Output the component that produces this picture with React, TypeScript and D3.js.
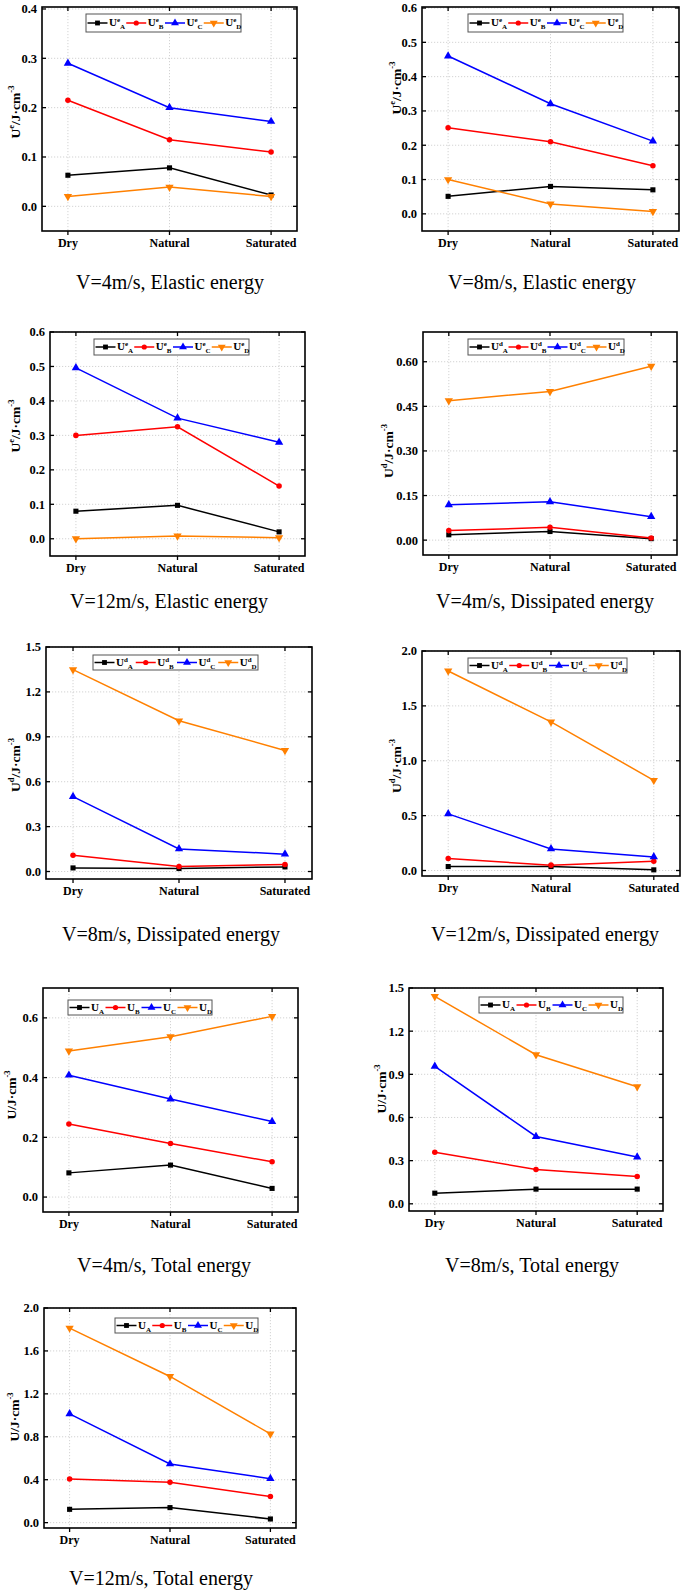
import React from "react";
import * as d3 from "d3";

const categories = ["Dry", "Natural", "Saturated"];
const seriesKeys = ["A", "B", "C", "D"];

// values per panel: rows = series A, B, C, D; columns = Dry, Natural, Saturated
const elastic4 = [
  [0.063, 0.078, 0.023],
  [0.215, 0.135, 0.11],
  [0.29, 0.2, 0.172],
  [0.02, 0.039, 0.02],
];
const elastic8 = [
  [0.051, 0.08, 0.07],
  [0.251, 0.21, 0.14],
  [0.46, 0.321, 0.212],
  [0.1, 0.029, 0.007],
];
const elastic12 = [
  [0.08, 0.097, 0.02],
  [0.3, 0.325, 0.153],
  [0.496, 0.35, 0.28],
  [0.0, 0.008, 0.003],
];
const dissipated4 = [
  [0.018, 0.029, 0.005],
  [0.032, 0.043, 0.007],
  [0.119, 0.129, 0.079],
  [0.469, 0.5, 0.585],
];
const dissipated8 = [
  [0.024, 0.02, 0.031],
  [0.109, 0.033, 0.047],
  [0.5, 0.151, 0.116],
  [1.349, 1.007, 0.809],
];
const dissipated12 = [
  [0.036, 0.036, 0.006],
  [0.109, 0.049, 0.085],
  [0.516, 0.197, 0.124],
  [1.818, 1.354, 0.822],
];
const total4 = [
  [0.081, 0.107, 0.029],
  [0.245, 0.179, 0.118],
  [0.408, 0.328, 0.253],
  [0.489, 0.537, 0.605],
];
const total8 = [
  [0.074, 0.102, 0.102],
  [0.359, 0.239, 0.19],
  [0.955, 0.468, 0.325],
  [1.442, 1.036, 0.814],
];
const total12 = [
  [0.124, 0.14, 0.034],
  [0.407, 0.376, 0.243],
  [1.014, 0.547, 0.41],
  [1.813, 1.362, 0.827],
];

const ticksE4 = [0, 0.1, 0.2, 0.3, 0.4];
const ticksE8 = [0, 0.1, 0.2, 0.3, 0.4, 0.5, 0.6];
const ticksE12 = [0, 0.1, 0.2, 0.3, 0.4, 0.5, 0.6];
const ticksD4 = [0, 0.15, 0.3, 0.45, 0.6];
const ticksD8 = [0, 0.3, 0.6, 0.9, 1.2, 1.5];
const ticksD12 = [0, 0.5, 1.0, 1.5, 2.0];
const ticksT4 = [0, 0.2, 0.4, 0.6];
const ticksT8 = [0, 0.3, 0.6, 0.9, 1.2, 1.5];
const ticksT12 = [0, 0.4, 0.8, 1.2, 1.6, 2.0];

const captions = [
  "V=4m/s, Elastic energy",
  "V=8m/s, Elastic energy",
  "V=12m/s, Elastic energy",
  "V=4m/s, Dissipated energy",
  "V=8m/s, Dissipated energy",
  "V=12m/s, Dissipated energy",
  "V=4m/s, Total energy",
  "V=8m/s, Total energy",
  "V=12m/s, Total energy",
];

const colors = ["#000000", "#ff0000", "#0000ff", "#ff8000"];
const FONT = '"Liberation Serif", "Times New Roman", "DejaVu Serif", serif';

type Cfg = {
  data: number[][];
  ticks: number[];
  fmt: string;
  top: number;
  sup: string;
  box: [number, number, number, number];
  legend: [number, number, number, number];
  ylab: [number, number];
  cap: [number, number];
  caption: string;
};

const panels: Cfg[] = [
  { data: elastic4, ticks: ticksE4, fmt: ".1f", top: 0.404, sup: "e", box: [42, 297, 7, 231], legend: [86, 14, 155, 18], ylab: [15, 112], cap: [170, 289], caption: captions[0] },
  { data: elastic8, ticks: ticksE8, fmt: ".1f", top: 0.603, sup: "e", box: [422, 679, 7, 231], legend: [468, 14, 155, 18], ylab: [396, 88], cap: [542, 289], caption: captions[1] },
  { data: elastic12, ticks: ticksE12, fmt: ".1f", top: 0.6, sup: "e", box: [50, 305, 332, 556], legend: [94, 339, 155, 16], ylab: [15, 426], cap: [169, 608], caption: captions[2] },
  { data: dissipated4, ticks: ticksD4, fmt: ".2f", top: 0.7, sup: "d", box: [423, 677, 332, 555], legend: [468, 339, 156, 16], ylab: [388, 451], cap: [545, 608], caption: captions[3] },
  { data: dissipated8, ticks: ticksD8, fmt: ".1f", top: 1.5, sup: "d", box: [46, 312, 647, 879], legend: [93, 655, 165, 15], ylab: [15, 765], cap: [171, 941], caption: captions[4] },
  { data: dissipated12, ticks: ticksD12, fmt: ".1f", top: 2.0, sup: "d", box: [422, 680, 651, 876], legend: [468, 658, 159, 15], ylab: [396, 766], cap: [545, 941], caption: captions[5] },
  { data: total4, ticks: ticksT4, fmt: ".1f", top: 0.7, sup: "", box: [43, 298, 988, 1212], legend: [68, 1000, 144, 15], ylab: [11, 1095], cap: [164, 1272], caption: captions[6] },
  { data: total8, ticks: ticksT8, fmt: ".1f", top: 1.5, sup: "", box: [409, 663, 988, 1211], legend: [479, 997, 144, 16], ylab: [381, 1089], cap: [532, 1272], caption: captions[7] },
  { data: total12, ticks: ticksT12, fmt: ".1f", top: 2.0, sup: "", box: [44, 296, 1308, 1528], legend: [115, 1318, 143, 15], ylab: [14, 1417], cap: [161, 1585], caption: captions[8] },
];

const symbolTypes = [d3.symbolSquare, d3.symbolCircle, d3.symbolTriangle, d3.symbolTriangle];
const symbolSizes = [26, 24, 30, 30];

function Marker({ i, x, y, scale = 1 }: { i: number; x: number; y: number; scale?: number }) {
  const path = d3.symbol().type(symbolTypes[i]).size(symbolSizes[i] * scale)() || "";
  const rot = i === 3 ? " rotate(180)" : "";
  return <path d={path} transform={`translate(${x},${y})${rot}`} fill={colors[i]} />;
}

function Panel({ cfg }: { cfg: Cfg }) {
  const [x0, x1, y0, y1] = cfg.box;
  const x = d3.scalePoint<string>().domain(categories).range([x0, x1]).padding(0.255);
  const y = d3.scaleLinear().domain([-0.05, cfg.top]).range([y1, y0]);
  const fmt = d3.format(cfg.fmt);
  const line = d3
    .line<number>()
    .x((_, i) => x(categories[i]) as number)
    .y((d) => y(d));
  const [lx, ly, lw, lh] = cfg.legend;
  const itemW = lw / 4;
  return (
    <g style={{ fontFamily: FONT }}>
      {cfg.ticks.map((t) => (
        <line key={"gy" + t} x1={x0} x2={x1} y1={y(t)} y2={y(t)} stroke="#c8c8c8" strokeWidth={0.8} strokeDasharray="1.2,1.8" />
      ))}
      {categories.map((c) => (
        <line key={"gx" + c} x1={x(c)} x2={x(c)} y1={y0} y2={y1} stroke="#c8c8c8" strokeWidth={0.8} strokeDasharray="1.2,1.8" />
      ))}
      {cfg.data.map((vals, si) => (
        <g key={"s" + si}>
          <path d={line(vals) || ""} fill="none" stroke={colors[si]} strokeWidth={1.5} />
          {vals.map((v, ci) => (
            <Marker key={ci} i={si} x={x(categories[ci]) as number} y={y(v)} />
          ))}
        </g>
      ))}
      <rect x={x0} y={y0} width={x1 - x0} height={y1 - y0} fill="none" stroke="#000" strokeWidth={1.6} />
      {cfg.ticks.map((t) => (
        <g key={"ty" + t}>
          <line x1={x0} x2={x0 + 4} y1={y(t)} y2={y(t)} stroke="#000" strokeWidth={1.3} />
          <line x1={x1} x2={x1 - 4} y1={y(t)} y2={y(t)} stroke="#000" strokeWidth={1.3} />
          <text x={x0 - 5} y={y(t)} dy="0.35em" textAnchor="end" fontSize={12.5} fontWeight="bold">
            {fmt(t)}
          </text>
        </g>
      ))}
      {categories.map((c) => (
        <g key={"tx" + c}>
          <line x1={x(c)} x2={x(c)} y1={y1} y2={y1 + 4} stroke="#000" strokeWidth={1.3} />
          <line x1={x(c)} x2={x(c)} y1={y0} y2={y0 + 4} stroke="#000" strokeWidth={1.3} />
          <text x={x(c)} y={y1 + 16} textAnchor="middle" fontSize={12} fontWeight="bold">
            {c}
          </text>
        </g>
      ))}
      <text
        transform={`translate(${cfg.ylab[0]},${cfg.ylab[1]}) rotate(-90)`}
        textAnchor="middle"
        dy="0.35em"
        fontSize={13.5}
        fontWeight="bold"
      >
        <tspan>U</tspan>
        {cfg.sup ? (
          <tspan fontSize={8.5} dy={-5.5}>
            {cfg.sup}
          </tspan>
        ) : null}
        <tspan dy={cfg.sup ? 5.5 : 0}>/J·cm</tspan>
        <tspan fontSize={8.5} dy={-5.5}>
          -3
        </tspan>
      </text>
      <rect x={lx} y={ly} width={lw} height={lh} fill="#fff" stroke="#555" strokeWidth={1} />
      {seriesKeys.map((k, i) => {
        const sx = lx + 1.5 + i * itemW;
        const cy = ly + lh / 2;
        return (
          <g key={"lg" + k}>
            <line x1={sx} x2={sx + 20} y1={cy} y2={cy} stroke={colors[i]} strokeWidth={1.5} />
            <Marker i={i} x={sx + 10} y={cy} scale={0.9} />
            <text x={sx + 21.5} y={cy} dy="0.3em" fontSize={11} fontWeight="bold">
              <tspan>U</tspan>
              {cfg.sup ? (
                <tspan fontSize={7} dy={-4}>
                  {cfg.sup}
                </tspan>
              ) : null}
              <tspan fontSize={7} dy={cfg.sup ? 7 : 3}>
                {k}
              </tspan>
            </text>
          </g>
        );
      })}
      <text x={cfg.cap[0]} y={cfg.cap[1]} textAnchor="middle" fontSize={20} fontWeight="normal">
        {cfg.caption}
      </text>
    </g>
  );
}

export default function App() {
  return (
    <div style={{ position: "absolute", left: 0, top: 0, background: "#fff" }}>
      <svg width={685} height={1592} style={{ display: "block", fontFamily: FONT }}>
        <rect width={685} height={1592} fill="#fff" />
        {panels.map((p, i) => (
          <Panel key={i} cfg={p} />
        ))}
      </svg>
    </div>
  );
}
